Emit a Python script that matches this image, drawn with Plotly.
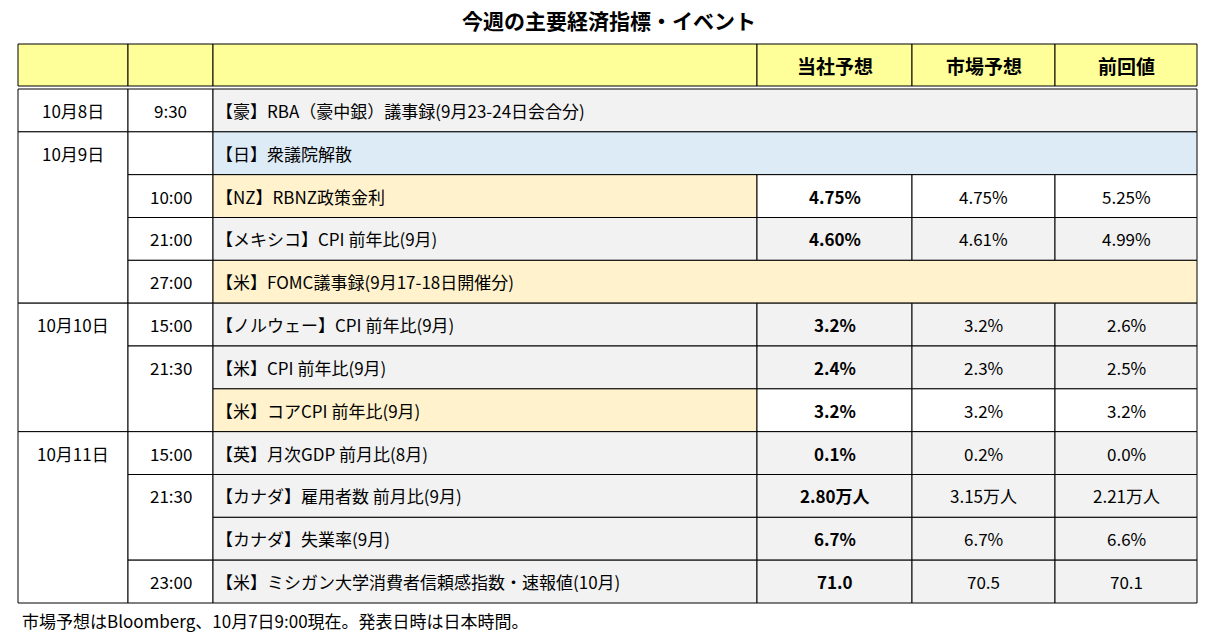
import plotly.graph_objects as go

title = "今週の主要経済指標・イベント"
headers = ["当社予想", "市場予想", "前回値"]
date_groups = [("10月8日", 1), ("10月9日", 4), ("10月10日", 3), ("10月11日", 4)]
time_groups = [("9:30", 1), ("", 1), ("10:00", 1), ("21:00", 1), ("27:00", 1), ("15:00", 1),
               ("21:30", 2), ("15:00", 1), ("21:30", 2), ("23:00", 1)]
events = ["【豪】RBA（豪中銀）議事録(9月23-24日会合分)", "【日】衆議院解散", "【NZ】RBNZ政策金利",
          "【メキシコ】CPI 前年比(9月)", "【米】FOMC議事録(9月17-18日開催分)", "【ノルウェー】CPI 前年比(9月)",
          "【米】CPI 前年比(9月)", "【米】コアCPI 前年比(9月)", "【英】月次GDP 前月比(8月)",
          "【カナダ】雇用者数 前月比(9月)", "【カナダ】失業率(9月)", "【米】ミシガン大学消費者信頼感指数・速報値(10月)"]
ours = ["", "", "4.75%", "4.60%", "", "3.2%", "2.4%", "3.2%", "0.1%", "2.80万人", "6.7%", "71.0"]
market = ["", "", "4.75%", "4.61%", "", "3.2%", "2.3%", "3.2%", "0.2%", "3.15万人", "6.7%", "70.5"]
prev = ["", "", "5.25%", "4.99%", "", "2.6%", "2.5%", "3.2%", "0.0%", "2.21万人", "6.6%", "70.1"]
row_fill = ["#F2F2F2", "#DDEBF7", "#FFF2CC", "#F2F2F2", "#FFF2CC", "#F2F2F2",
            "#F2F2F2", "#FFF2CC", "#F2F2F2", "#F2F2F2", "#F2F2F2", "#F2F2F2"]
note = "市場予想はBloomberg、10月7日9:00現在。発表日時は日本時間。"

W, H = 1217, 639
OFF = 8  # page body margin
cols = [18, 128, 213, 757, 912, 1055, 1197]
hdr_top, hdr_bot = 44, 86
body_top, body_bot = 89, 603
rh = (body_bot - body_top) / len(events)
FONT = "Noto Sans CJK JP"

fig = go.Figure()
shapes, ann = [], []


def cell(x0, x1, y0, y1, fill="white"):
    shapes.append(dict(type="rect", x0=x0, x1=x1, y0=y0, y1=y1, fillcolor=fill,
                       line=dict(color="black", width=1), layer="below"))


def text(x, y, s, bold=False, anchor="center", size=17):
    ann.append(dict(x=x, y=y, text=f"<b>{s}</b>" if bold else s, showarrow=False,
                    xanchor=anchor, yanchor="middle", font=dict(family=FONT, size=size, color="black")))


# header
for i in range(6):
    cell(cols[i], cols[i + 1], hdr_top, hdr_bot, "#FFFF99")
for i, h in enumerate(headers):
    text((cols[3 + i] + cols[4 + i]) / 2, (hdr_top + hdr_bot) / 2, h, bold=True, size=19)

# date column
r = 0
for lab, n in date_groups:
    y0, y1 = body_top + r * rh, body_top + (r + n) * rh
    cell(cols[0], cols[1], y0, y1)
    text((cols[0] + cols[1]) / 2, y0 + rh / 2, lab)
    r += n

# time column
r = 0
for lab, n in time_groups:
    y0, y1 = body_top + r * rh, body_top + (r + n) * rh
    cell(cols[1], cols[2], y0, y1)
    text((cols[1] + cols[2]) / 2, y0 + rh / 2, lab)
    r += n

# event and value cells
for i, ev in enumerate(events):
    y0, y1 = body_top + i * rh, body_top + (i + 1) * rh
    ym = (y0 + y1) / 2
    if ours[i] == "":
        cell(cols[2], cols[6], y0, y1, row_fill[i])
    else:
        cell(cols[2], cols[3], y0, y1, row_fill[i])
        for j, v in enumerate([ours[i], market[i], prev[i]]):
            cell(cols[3 + j], cols[4 + j], y0, y1, "#F2F2F2" if row_fill[i] == "#F2F2F2" else "white")
            text((cols[3 + j] + cols[4 + j]) / 2, ym, v, bold=(j == 0))
    text(cols[2] + 1, ym, ev, anchor="left")

text(W / 2, 20, title, bold=True, size=21)
text(20, 620, note, anchor="left", size=17)

fig.update_layout(width=W - OFF, height=H - OFF, margin=dict(l=0, r=0, t=0, b=0),
                  plot_bgcolor="white", paper_bgcolor="white",
                  shapes=shapes, annotations=ann, showlegend=False,
                  xaxis=dict(range=[OFF, W], visible=False, fixedrange=True),
                  yaxis=dict(range=[H, OFF], visible=False, fixedrange=True))
fig.write_html("out.html")
